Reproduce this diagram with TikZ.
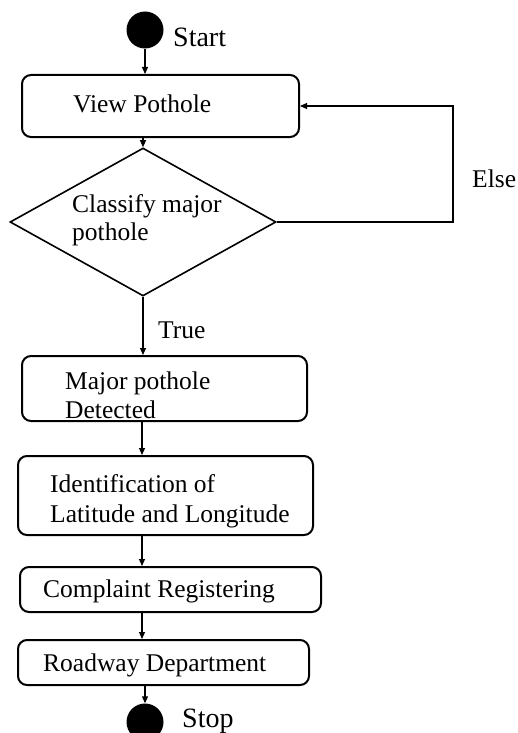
\documentclass[tikz,border=0pt]{standalone}
\usepackage{fontspec}
\setmainfont{Liberation Serif}
\usetikzlibrary{shapes.geometric,arrows.meta}

\tikzset{
  actbox/.style={draw, rectangle, line width=2pt, rounded corners=9pt, inner sep=0pt},
  decbox/.style={draw, diamond, line width=1.6pt, inner sep=0pt},
  dot/.style={circle, fill=black, inner sep=0pt, minimum size=37pt},
  lbl/.style={anchor=base west, inner sep=0pt, align=left, font=\fontsize{25.5}{29}\selectfont},
  endlbl/.style={lbl, font=\fontsize{28}{32}\selectfont},
  flow/.style={line width=1.1pt, -{Triangle[length=7pt,width=6pt]}},
}

\begin{document}
\begin{tikzpicture}[x=1pt,y=-1pt]
\useasboundingbox (0,0) rectangle (518,733);
\coordinate (spine) at (142,0); % main vertical line
\coordinate (loop) at (453,0); % else return line

\node[dot] (start) at (145,30) {}; % Start
\node[actbox, minimum width=277pt, minimum height=62pt] (view) at (160.5,106) {}; % View
\node[decbox, minimum width=266pt, minimum height=148pt] (dia) at (143,222) {}; % Classify
\node[actbox, minimum width=285pt, minimum height=65pt] (major) at (164.5,388.5) {}; % Major
\node[actbox, minimum width=295pt, minimum height=79pt] (ident) at (165.5,495.5) {}; % Ident
\node[actbox, minimum width=301pt, minimum height=45pt] (compl) at (170.5,589.5) {}; % Complaint
\node[actbox, minimum width=291pt, minimum height=45pt] (road) at (163.5,662.5) {}; % Roadway
\node[dot] (stop) at (145,722) {}; % Stop

% two-line labels: base is the last line
\node[endlbl] (startlbl) at (173,46.5) {Start};
\node[lbl] (viewlbl) at (73,113) {View Pothole};
\node[lbl, font=\fontsize{25.5}{28}\selectfont] (dialbl) at (72,240) {Classify major\\pothole};
\node[lbl] (elselbl) at (472,187) {Else};
\node[lbl] (truelbl) at (158,338) {True};
\node[lbl] (majorlbl) at (65,418) {Major pothole\\Detected};
\node[lbl, font=\fontsize{25.5}{30}\selectfont] (identlbl) at (50,522) {Identification of\\Latitude and Longitude};
\node[lbl] (compllbl) at (43,597) {Complaint Registering};
\node[lbl] (roadlbl) at (43,671) {Roadway Department};
\node[endlbl] (stoplbl) at (182,727) {Stop};

\draw[flow] (start) -- (start |- view.north);
\draw[flow] (dia.north |- view.south) -- (dia.north);
\draw[flow] (dia.south) -- (dia.south |- major.north);
\draw[flow] (spine |- major.south) -- (spine |- ident.north);
\draw[flow] (spine |- ident.south) -- (spine |- compl.north);
\draw[flow] (spine |- compl.south) -- (spine |- road.north);
\draw[flow] (stop |- road.south) -- (stop);
\draw[flow] (dia.east) -| (loop |- view.east) -- (view.east); % Else

\end{tikzpicture}
\end{document}
